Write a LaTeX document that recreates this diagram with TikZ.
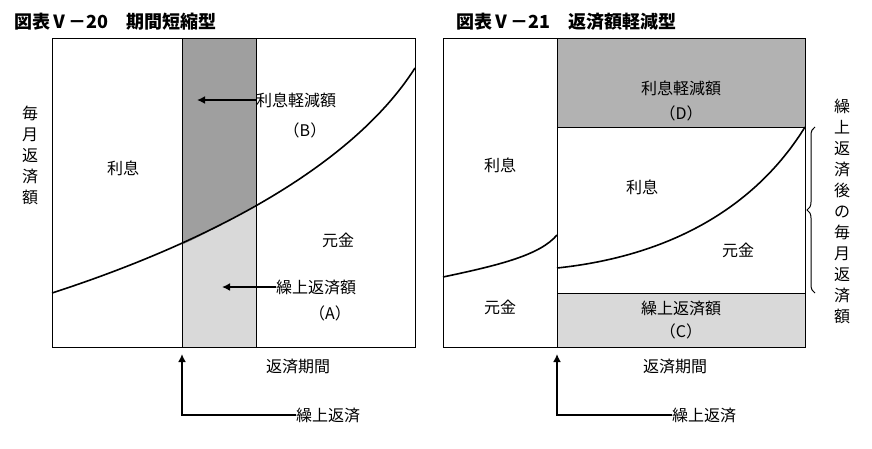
\documentclass[tikz,border=0pt]{standalone}
\usepackage{fontspec}
\setmainfont{Noto Sans CJK JP}
\usetikzlibrary{arrows.meta,decorations.pathreplacing}
\tikzset{
 txt/.style={font=\fontsize{16}{18}\selectfont, inner sep=0pt},
 ttl/.style={font=\fontsize{18}{20}\selectfont\bfseries, inner sep=0pt, anchor=west},
 vtxt/.style={font=\fontsize{16}{21}\selectfont, inner sep=0pt, align=center},
 frame/.style={draw=black, line width=1pt},
 arr/.style={draw=black, line width=1.6pt, -{Latex[length=8pt,width=8pt]}},
 curve/.style={draw=black, line width=1.6pt},
}
\begin{document}
\begin{tikzpicture}[x=1pt,y=-1pt]
\useasboundingbox (0,0) rectangle (872,448);
% titles
\node[ttl] (t1) at (14,22) {図表Ⅴ－20　期間短縮型};
\node[ttl] (t2) at (456,22) {図表Ⅴ－21　返済額軽減型};
% left panel bands
\fill[gray!75] (182,38) -- (256,38) -- (256,205) .. controls (230,220) and (205,235) .. (182,245) -- cycle;
\fill[gray!30] (182,245) .. controls (205,235) and (230,220) .. (256,205) -- (256,347) -- (182,347) -- cycle;
\draw[frame] (52,38) rectangle (415,347);
\draw[frame] (182,38) -- (182,347);
\draw[frame] (256,38) -- (256,347);
\draw[curve] (52,293) .. controls (200,245) and (350,170) .. (415,68);
\node[txt] (l1) at (123,168) {利息};
\node[txt] (l2) at (338,240) {元金};
\node[txt,anchor=west] (b1) at (256,100) {利息軽減額};
\node[txt] (b2) at (305,130) {（B）};
\node[txt,anchor=west] (a1) at (276,287) {繰上返済額};
\node[txt] (a2) at (330,313) {（A）};
\draw[arr] (b1.west) -- (197,100);
\draw[arr] (a1.west) -- (222,287);
\node[txt] (x1) at (298,366) {返済期間};
\node[txt,anchor=west] (k1) at (296,415) {繰上返済};
\coordinate (c1) at (182,354);
\draw[arr] (k1.west) -| (c1);
\node[vtxt] (y1) at (30,155) {毎\\月\\返\\済\\額};
% right panel
\fill[gray!60] (557,38) rectangle (805,127);
\fill[gray!30] (557,293) rectangle (805,347);
\draw[frame] (443,38) rectangle (805,347);
\draw[frame] (557,38) -- (557,347);
\draw[frame] (557,127) -- (805,127);
\draw[frame] (557,293) -- (805,293);
\draw[curve] (443,277) .. controls (500,265) and (540,255) .. (557,235);
\draw[curve] (557,268) .. controls (680,255) and (760,200) .. (805,127);
\node[txt] (r1) at (500,165) {利息};
\node[txt] (r2) at (500,307) {元金};
\node[txt] (r3) at (642,187) {利息};
\node[txt] (r4) at (738,250) {元金};
\node[txt] (d1) at (681,88) {利息軽減額};
\node[txt] (d2) at (681,113) {（D）};
\node[txt] (e1) at (681,308) {繰上返済額};
\node[txt] (e2) at (681,331) {（C）};
\node[txt] (x2) at (675,366) {返済期間};
\node[txt,anchor=west] (k2) at (672,415) {繰上返済};
\coordinate (c2) at (557,354);
\draw[arr] (k2.west) -| (c2);
\draw[line width=1pt, decorate, decoration={brace, amplitude=8pt}] (815,293) -- (815,127);
\node[vtxt] (y2) at (842,211) {繰\\上\\返\\済\\後\\の\\毎\\月\\返\\済\\額};
\end{tikzpicture}
\end{document}
